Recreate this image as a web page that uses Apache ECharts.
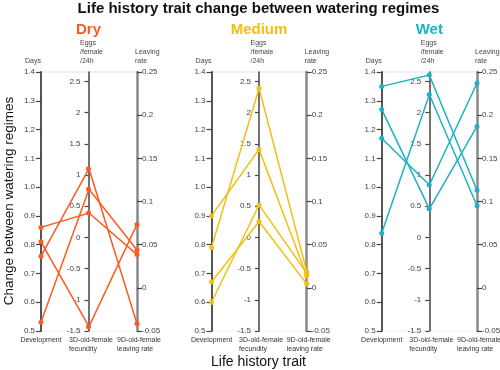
<!DOCTYPE html>
<html><head><meta charset="utf-8">
<script src="https://cdn.jsdelivr.net/npm/echarts@6/dist/echarts.min.js"></script>
<style>html,body{margin:0;padding:0;background:#fff}#main{width:500px;height:370px}</style>
</head><body><div id="main"></div>
<script>
// ---- data ----
const chartTitle = 'Life history trait change between watering regimes';
const yAxisTitle = 'Change between watering regimes';
const xAxisTitle = 'Life history trait';
const regimes = ['Dry', 'Medium', 'Wet'];
const traits = ['Development', '3D-old-female\nfecundity', '9D-old-female\nleaving rate'];
const axisNames = ['Days', 'Eggs\n/female\n/24h', 'Leaving\nrate'];
const developmentTicks = [0.5, 0.6, 0.7, 0.8, 0.9, 1.0, 1.1, 1.2, 1.3, 1.4];
const fecundityTicks = [-1.5, -1, -0.5, 0, 0.5, 1, 1.5, 2, 2.5];
const leavingTicks = [-0.05, 0, 0.05, 0.1, 0.15, 0.2, 0.25];

const dryDevelopment = [0.86, 0.81, 0.76, 0.53];
const dryFecundity   = [0.39, -1.43, 1.10, 0.77];
const dryLeaving     = [0.0385, 0.0735, -0.0415, 0.0438];

const mediumDevelopment = [0.90, 0.79, 0.67, 0.60];
const mediumFecundity   = [1.41, 2.39, 0.255, 0.52];
const mediumLeaving     = [0.014, 0.019, 0.0046, 0.017];

const wetDevelopment = [1.35, 0.84, 1.27, 1.17];
const wetFecundity   = [2.60, 2.29, 0.457, 0.84];
const wetLeaving     = [0.113, 0.095, 0.187, 0.237];

// ---- layout / style ----
const FONT = "'Liberation Sans', Arial, sans-serif";
const colors = ['#FF5A1E', '#F2BF12', '#1BB3C2'];
const axisX = [[41, 88.5, 137], [211.5, 259, 306.7], [381.7, 429.3, 477]];
const TOP = 72, BOTTOM = 331;
const ranges = [[0.5, 1.4], [-1.5, 2.65], [-0.05, 0.25]];
const tickSets = [developmentTicks, fecundityTicks, leavingTicks];
const labelFormats = [v => Number(v).toFixed(1), v => String(v), v => String(v)];
const panelData = [
  [dryDevelopment, dryFecundity, dryLeaving],
  [mediumDevelopment, mediumFecundity, mediumLeaving],
  [wetDevelopment, wetFecundity, wetLeaving]
];
const lineColors = ['#555', '#444', '#8a8a8a'];
const lineWidths = [2, 1.5, 2.5];

const chart = echarts.init(document.getElementById('main'));

const parallel = [], parallelAxis = [], singleAxis = [], series = [], graphic = [];

regimes.forEach((r, p) => {
  parallel.push({
    left: axisX[p][0], right: 500 - axisX[p][2], top: TOP, bottom: 370 - BOTTOM,
    layout: 'horizontal'
  });
  for (let d = 0; d < 3; d++) {
    parallelAxis.push({
      dim: d, parallelIndex: p, type: 'value',
      min: ranges[d][0], max: ranges[d][1],
      name: traits[d], nameLocation: 'start', nameGap: 5,
      nameTextStyle: {
        fontSize: 7, color: '#333', fontFamily: FONT, lineHeight: 8.5,
        align: d === 0 ? 'center' : 'left', verticalAlign: 'top',
        padding: d === 0 ? 0 : [0, 0, 0, -20]
      },
      axisLine: {show: false}, axisTick: {show: false},
      axisLabel: {show: false, formatter: () => '', color: 'rgba(0,0,0,0)'},
      splitLine: {show: false}
    });
    singleAxis.push({
      orient: 'vertical', position: d === 2 ? 'right' : 'left', type: 'value',
      left: axisX[p][d], width: 0, top: TOP, height: BOTTOM - TOP,
      min: ranges[d][0], max: ranges[d][1],
      axisLine: {show: true, lineStyle: {color: lineColors[d], width: lineWidths[d]}},
      axisTick: {show: true, length: d === 1 ? 4 : 5, lineStyle: {color: '#444', width: 1.2}, customValues: tickSets[d]},
      axisLabel: {show: true, fontSize: 8, color: '#444', fontFamily: FONT,
        margin: d === 0 ? 6 : (d === 1 ? 8 : 5), customValues: tickSets[d],
        formatter: labelFormats[d]},
      splitLine: {show: false},
      axisPointer: {show: false},
      name: axisNames[d], nameLocation: 'end', nameGap: 6,
      nameTextStyle: {
        fontSize: 7, color: '#444', fontFamily: FONT, lineHeight: 9,
        align: d === 0 ? 'right' : 'left', verticalAlign: 'bottom',
        padding: d === 0 ? 0 : [0, 0, 0, d === 1 ? -8.5 : -2]
      }
    });
  }
  // extra tick set on the right of the fecundity axis (cross ticks)
  singleAxis.push({
    orient: 'vertical', position: 'right', type: 'value',
    left: axisX[p][1], width: 0, top: TOP, height: BOTTOM - TOP,
    min: ranges[1][0], max: ranges[1][1],
    axisLine: {show: false},
    axisTick: {show: true, length: 4, lineStyle: {color: '#444', width: 1.2}, customValues: fecundityTicks},
    axisLabel: {show: false}, splitLine: {show: false}, axisPointer: {show: false}
  });

  const rows = panelData[p][0].map((v, i) => [panelData[p][0][i], panelData[p][1][i], panelData[p][2][i]]);
  series.push({
    type: 'parallel', parallelIndex: p, data: rows, silent: true,
    lineStyle: {color: colors[p], width: 1.5, opacity: 1},
    emphasis: {disabled: true}, z: 2
  });
  for (let d = 0; d < 3; d++) {
    series.push({
      type: 'scatter', coordinateSystem: 'singleAxis', singleAxisIndex: p * 4 + d,
      data: panelData[p][d], symbol: 'circle', symbolSize: 5, silent: true,
      itemStyle: {color: colors[p], opacity: 1}, z: 3
    });
  }
  graphic.push({type: 'line', silent: true, z: 0,
    shape: {x1: axisX[p][0], y1: TOP, x2: axisX[p][2], y2: TOP},
    style: {stroke: '#e2e2e2', lineWidth: 1}});
  graphic.push({type: 'line', silent: true, z: 0,
    shape: {x1: axisX[p][0], y1: BOTTOM, x2: axisX[p][2], y2: BOTTOM},
    style: {stroke: '#eeeeee', lineWidth: 1}});
});

graphic.push({
  type: 'text', silent: true, x: 9, y: 201, rotation: Math.PI / 2,
  style: {text: yAxisTitle, fontSize: 13.5, fill: '#111', fontFamily: FONT, align: 'center', verticalAlign: 'middle'}
});
graphic.push({
  type: 'text', silent: true, x: 258.5, y: 362,
  style: {text: xAxisTitle, fontSize: 14, fill: '#111', fontFamily: FONT, align: 'center', verticalAlign: 'middle'}
});

const option = {
  animation: false,
  backgroundColor: '#fff',
  title: [
    {text: chartTitle, left: 258.5, top: 1, textAlign: 'center', padding: 0,
      textStyle: {fontSize: 15, fontWeight: 'bold', color: '#111', fontFamily: FONT}},
    ...regimes.map((r, p) => ({text: r, left: axisX[p][1], top: 22, textAlign: 'center', padding: 0,
      textStyle: {fontSize: 15, fontWeight: 'bold', color: colors[p], fontFamily: FONT}}))
  ],
  parallel, parallelAxis, singleAxis, series, graphic
};
chart.setOption(option);
</script></body></html>
